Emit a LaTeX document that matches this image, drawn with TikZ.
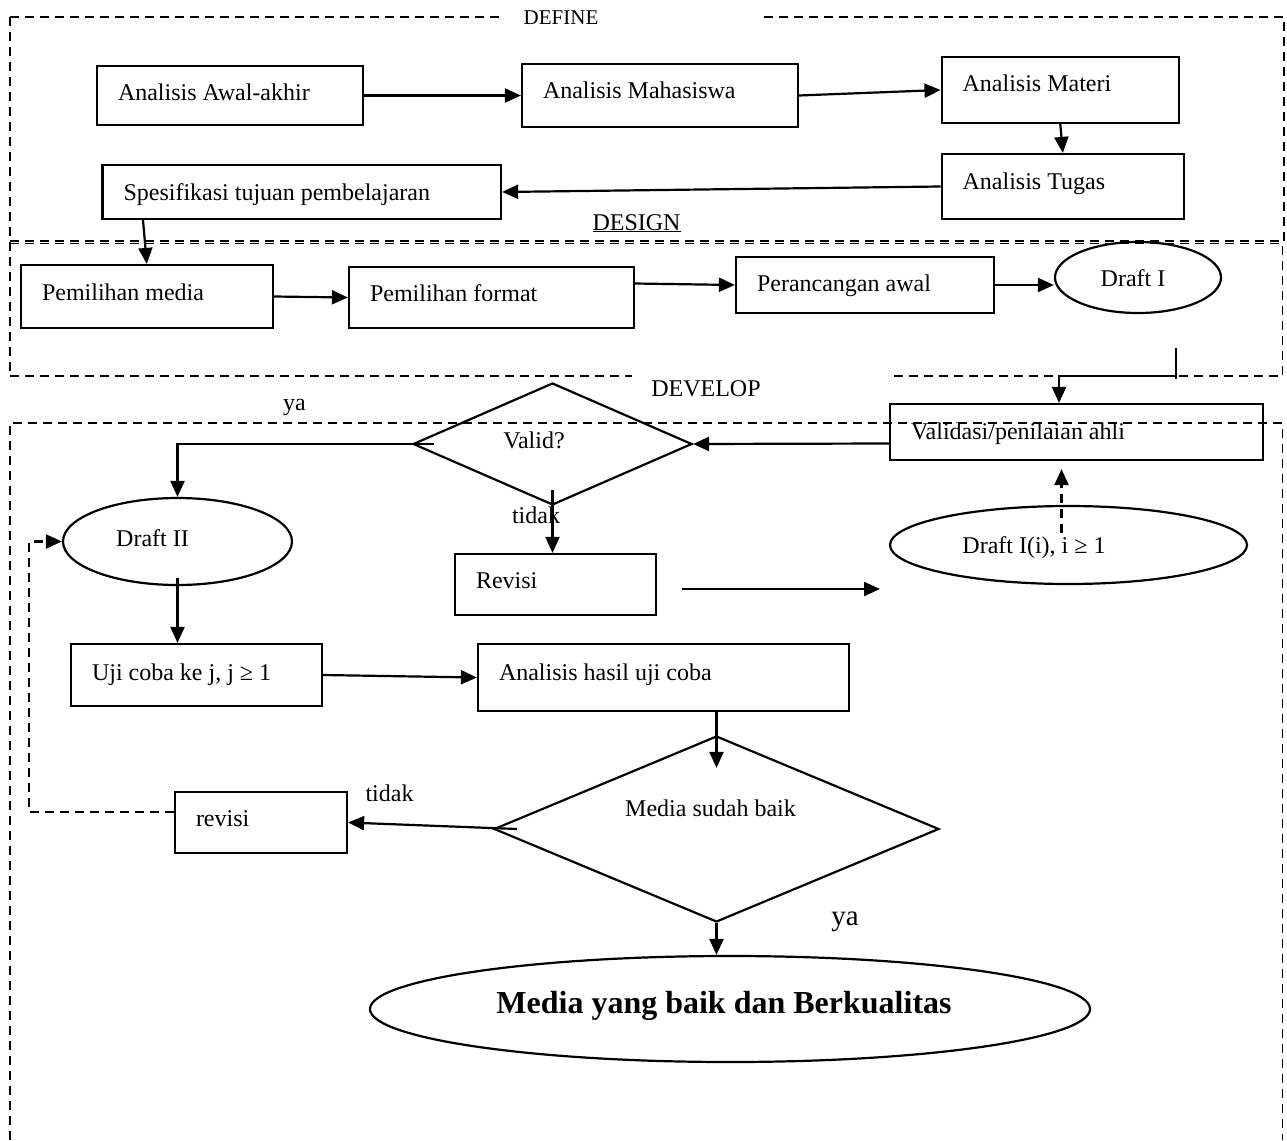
\documentclass[tikz,border=0pt]{standalone}
\usepackage{fontspec}
\setmainfont{Liberation Serif}
\usetikzlibrary{shapes.geometric,arrows.meta}
\newcommand\fsz{\fontsize{24}{28}\selectfont}
\begin{document}
\begin{tikzpicture}[x=1pt,y=-1pt,
  lw/.style={line width=2.2pt},
  box/.style={draw, lw, rectangle, inner xsep=21pt, inner ysep=0pt, align=flush left, text height=17pt, font=\fsz},
  ell/.style={draw, lw, ellipse, inner sep=0pt},
  dia/.style={draw, lw, diamond, inner sep=0pt},
  txt/.style={inner sep=0pt, anchor=base, font=\fsz},
  arr/.style={lw, -{Triangle[length=16pt,width=14pt]}},
  darr/.style={arr, dash pattern=on 9pt off 6pt},
  frame/.style={line width=1.9pt, dash pattern=on 9pt off 6pt}]
\useasboundingbox (0,0) rectangle (1287,1140);

% frames
\draw[frame] (10,17) -- (502,17);
\draw[frame] (764,17) -- (1284,17) -- (1284,241);
\draw[frame] (10,17) -- (10,376);
\draw[frame] (10,241) -- (1284,241);
\draw[frame] (10,243.5) -- (1282.5,243.5) -- (1282.5,376) -- (892,376);
\draw[frame] (10,376) -- (632,376);
\draw[frame] (10,1140) -- (10,423) -- (1282.5,423) -- (1282.5,1140);

% section titles
\node[txt, font=\fontsize{21}{25}\selectfont] (tdef) at (561,25) {DEFINE};
\node[txt] (tdes) at (636.5,230) {\underline{DESIGN}};
\node[txt] (tdev) at (706,396) {DEVELOP};

% DEFINE
\node[box, minimum width=266pt, minimum height=59pt, text width=224pt, text depth=7pt] (aw) at (230,95.5) {Analisis Awal-akhir};
\node[box, minimum width=276pt, minimum height=63pt, text width=234pt, text depth=12pt] (mh) at (660,95.5) {Analisis Mahasiswa};
\node[box, minimum width=237.4pt, minimum height=66pt, text width=195.4pt, text depth=15pt] (mt) at (1060.3,90) {Analisis Materi};
\node[box, minimum width=242.4pt, minimum height=65pt, text width=200.4pt, text depth=12pt] (tg) at (1062.8,186.5) {Analisis Tugas};
\node[box, minimum width=398.5pt, minimum height=54pt, text width=356.5pt, text depth=1pt] (sp) at (301.75,192) {Spesifikasi tujuan pembelajaran};

% DESIGN
\node[box, minimum width=251.6pt, minimum height=63pt, text width=209.6pt, text depth=10pt] (pm) at (146.8,296.5) {Pemilihan media};
\node[box, minimum width=284.6pt, minimum height=61pt, text width=242.6pt, text depth=10pt] (pf) at (491.3,297.5) {Pemilihan format};
\node[box, minimum width=258pt, minimum height=56pt, text width=216pt, text depth=5pt] (pa) at (865,285) {Perancangan awal};
\node[ell, minimum width=166pt, minimum height=71pt] (d1) at (1138,277.5) {};
\node[txt] (d1t) at (1133,286) {Draft I};

% DEVELOP
\node[box, minimum width=373pt, minimum height=56pt, text width=331pt, text depth=3pt] (va) at (1076.5,432) {Validasi/penilaian ahli};
\node[dia, minimum width=279pt, minimum height=122pt] (vd) at (552.5,444) {};
\node[txt] (vdt) at (534,448) {Valid?};
\node[ell, minimum width=229pt, minimum height=87pt] (d2) at (177.5,541.5) {};
\node[txt] (d2t) at (152.5,546) {Draft II};
\node[box, minimum width=201pt, minimum height=61pt, text width=159pt, text depth=10pt] (rv) at (555.5,584.5) {Revisi};
\node[ell, minimum width=357pt, minimum height=78pt] (di) at (1068.5,545) {};
\node[txt] (dit) at (1034,553) {Draft I(i), i ≥ 1};
\node[box, minimum width=251pt, minimum height=62pt, text width=209pt, text depth=7pt] (uj) at (196.5,675) {Uji coba ke j, j ≥ 1};
\node[box, minimum width=371pt, minimum height=67pt, text width=329pt, text depth=12pt] (hs) at (663.5,677.5) {Analisis hasil uji coba};
\node[dia, minimum width=445pt, minimum height=186pt] (msb) at (716.5,829) {};
\node[txt] (msbt) at (710.5,816) {Media sudah baik};
\node[box, minimum width=172pt, minimum height=61pt, text width=130pt, text depth=10pt] (rv2) at (261,822.5) {revisi};
\node[ell, minimum width=720pt, minimum height=106pt] (mb) at (730,1009) {};
\node[txt, font=\fontsize{32}{38}\selectfont\bfseries] (mbt) at (724,1013) {Media yang baik dan Berkualitas};

% branch labels
\node[txt] (ya1) at (294.5,410) {ya};
\node[txt] (td1) at (536,523) {tidak};
\node[txt] (td2) at (389.5,801) {tidak};
\node[txt, font=\fontsize{29}{34}\selectfont] (ya2) at (845,925) {ya};

% connectors DEFINE / DESIGN
\draw[arr] (aw.east) -- (mh.west);
\draw[arr] (mh.east) -- (mt.west);
\draw[arr] (mt.south) -- (tg.north);
\draw[arr] (tg.west) -- (sp.east);
\draw[arr] ([xshift=-158.75pt]sp.south) -- (pm.north);
\draw[arr] (pm.east) -- (pf.west);
\draw[arr] ([yshift=14pt]pf.east) -- (pa.west);
\draw[arr] (pa.east) -- (pa.east -| d1.west);

% Draft I -> Validasi
\coordinate (d1o) at (1176,348);
\coordinate (d1e) at (1176,379);
\coordinate (d1c) at (1176,376);
\draw[lw] (d1o) -- (d1e);
\draw[arr] (d1c) -| ([xshift=-17.5pt]va.north);

% DEVELOP connectors
\draw[arr] ([yshift=-11.5pt]va.west) -- (vd.east);
\draw[arr] ([xshift=22pt]vd.west) -| (d2.north);
\draw[arr] ([yshift=16pt]vd.south) -- (vd.south |- rv.north);
\coordinate (rve) at (880,589);
\draw[arr] ([xshift=24.5pt,yshift=-4.5pt]rv.east) -- (rve);
\coordinate (dis) at (1061.5,533);
\draw[darr, shorten >=8pt] (dis) -- (dis |- va.south);
\draw[arr] ([yshift=8pt]d2.south) -- (d2.south |- uj.north);
\draw[arr] (uj.east) -- (hs.west);
\draw[arr] (hs.south -| msb.north) -- ([yshift=-33pt]msb.north);
\draw[arr] ([xshift=24pt]msb.west) -- (rv2.east);
\coordinate (fb) at (29,812);
\draw[darr] ([yshift=10.5pt]rv2.west) -- (fb) |- (d2.west);
\draw[arr] (msb.south) -- (msb.south |- mb.north);
\end{tikzpicture}
\end{document}
